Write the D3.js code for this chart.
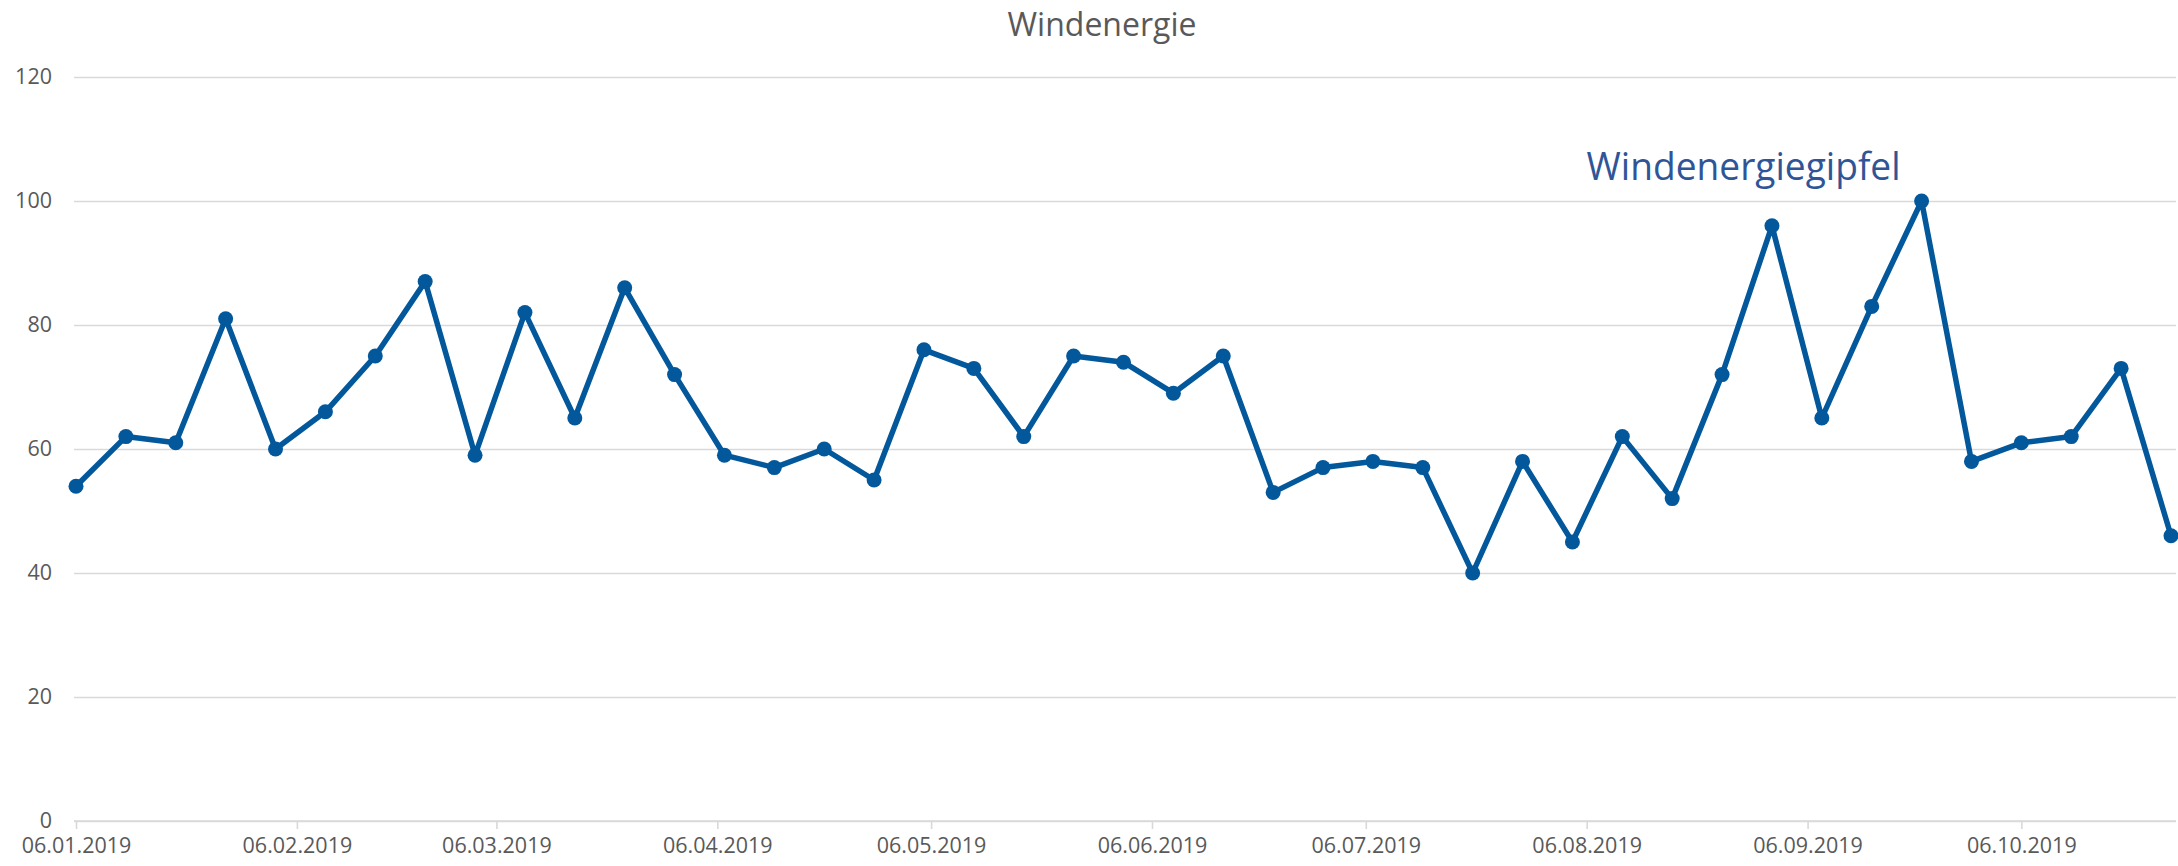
<!DOCTYPE html>
<html>
<head>
<meta charset="utf-8">
<script src="https://cdn.jsdelivr.net/npm/d3@7"></script>
<style>
  html, body { margin: 0; padding: 0; background: #fff; }
  svg { display: block; }
</style>
</head>
<body>
<svg id="chart" width="2178" height="866"></svg>
<script>
const title = "Windenergie";
const annotationText = "Windenergiegipfel";
const dates = [
  "06.01.2019","13.01.2019","20.01.2019","27.01.2019",
  "03.02.2019","10.02.2019","17.02.2019","24.02.2019",
  "03.03.2019","10.03.2019","17.03.2019","24.03.2019","31.03.2019",
  "07.04.2019","14.04.2019","21.04.2019","28.04.2019",
  "05.05.2019","12.05.2019","19.05.2019","26.05.2019",
  "02.06.2019","09.06.2019","16.06.2019","23.06.2019","30.06.2019",
  "07.07.2019","14.07.2019","21.07.2019","28.07.2019",
  "04.08.2019","11.08.2019","18.08.2019","25.08.2019",
  "01.09.2019","08.09.2019","15.09.2019","22.09.2019","29.09.2019",
  "06.10.2019","13.10.2019","20.10.2019","27.10.2019"
];
const values = [
  54, 62, 61, 81,
  60, 66, 75, 87,
  59, 82, 65, 86, 72,
  59, 57, 60, 55,
  76, 73, 62, 75,
  74, 69, 75, 53, 57,
  58, 57, 40, 58,
  45, 62, 52, 72,
  96, 65, 83, 100, 58,
  61, 62, 73, 46
];
const xTickLabels = [
  "06.01.2019","06.02.2019","06.03.2019","06.04.2019","06.05.2019",
  "06.06.2019","06.07.2019","06.08.2019","06.09.2019","06.10.2019"
];
const yTicks = [0, 20, 40, 60, 80, 100, 120];
const annotationDate = "22.09.2019";

const parse = d3.utcParse("%d.%m.%Y");
const fmt = d3.utcFormat("%d.%m.%Y");
const data = dates.map((d, i) => ({ date: parse(d), value: values[i] }));

const svg = d3.select("#chart");
const plotLeft = 74, plotRight = 2176, plotTop = 77, plotBottom = 821;

const x = d3.scaleUtc()
  .domain([parse(dates[0]), parse(dates[dates.length - 1])])
  .range([76, 2171]);
const y = d3.scaleLinear().domain([0, 120]).range([plotBottom, plotTop]);

const textColor = "#595959";
const gridColor = "#d9d9d9";
const lineColor = "#03589c";
const font = "'Open Sans', 'Noto Sans', sans-serif";

// Title
svg.append("text")
  .attr("x", 1102).attr("y", 36)
  .attr("text-anchor", "middle")
  .attr("font-family", font).attr("font-size", 32)
  .attr("fill", textColor)
  .text(title);

// Y gridlines + labels
const yAxis = d3.axisLeft(y).tickValues(yTicks).tickSize(-(plotRight - plotLeft)).tickPadding(22);
const gy = svg.append("g").attr("transform", `translate(${plotLeft},0)`).call(yAxis);
gy.select(".domain").remove();
gy.selectAll(".tick line").attr("stroke", gridColor).attr("stroke-width", 1.6);
gy.selectAll(".tick text")
  .attr("font-family", font).attr("font-size", 21.5)
  .attr("fill", textColor);

// X axis
const xAxis = d3.axisBottom(x)
  .tickValues(xTickLabels.map(parse))
  .tickFormat(fmt)
  .tickSize(8).tickPadding(9);
const gx = svg.append("g").attr("transform", `translate(0,${plotBottom})`).call(xAxis);
gx.select(".domain").attr("d", `M${plotLeft},0H${plotRight}`).attr("stroke", gridColor).attr("stroke-width", 1.6);
gx.selectAll(".tick line").attr("stroke", gridColor).attr("stroke-width", 1.6);
gx.selectAll(".tick text")
  .attr("font-family", font).attr("font-size", 21.5)
  .attr("fill", textColor);

// Line
const line = d3.line().x(d => x(d.date)).y(d => y(d.value));
svg.append("path")
  .datum(data)
  .attr("fill", "none")
  .attr("stroke", lineColor)
  .attr("stroke-width", 5.5)
  .attr("stroke-linejoin", "round")
  .attr("d", line);

svg.append("g").selectAll("circle")
  .data(data).join("circle")
  .attr("cx", d => x(d.date))
  .attr("cy", d => y(d.value))
  .attr("r", 7.5)
  .attr("fill", lineColor);

// Annotation
const peak = data.find(d => fmt(d.date) === annotationDate);
svg.append("text")
  .attr("x", x(peak.date) - 335)
  .attr("y", y(peak.value) - 21)
  .attr("font-family", font).attr("font-size", 39)
  .attr("fill", "#2f5597")
  .attr("textLength", 314)
  .attr("lengthAdjust", "spacingAndGlyphs")
  .text(annotationText);
</script>
</body>
</html>
